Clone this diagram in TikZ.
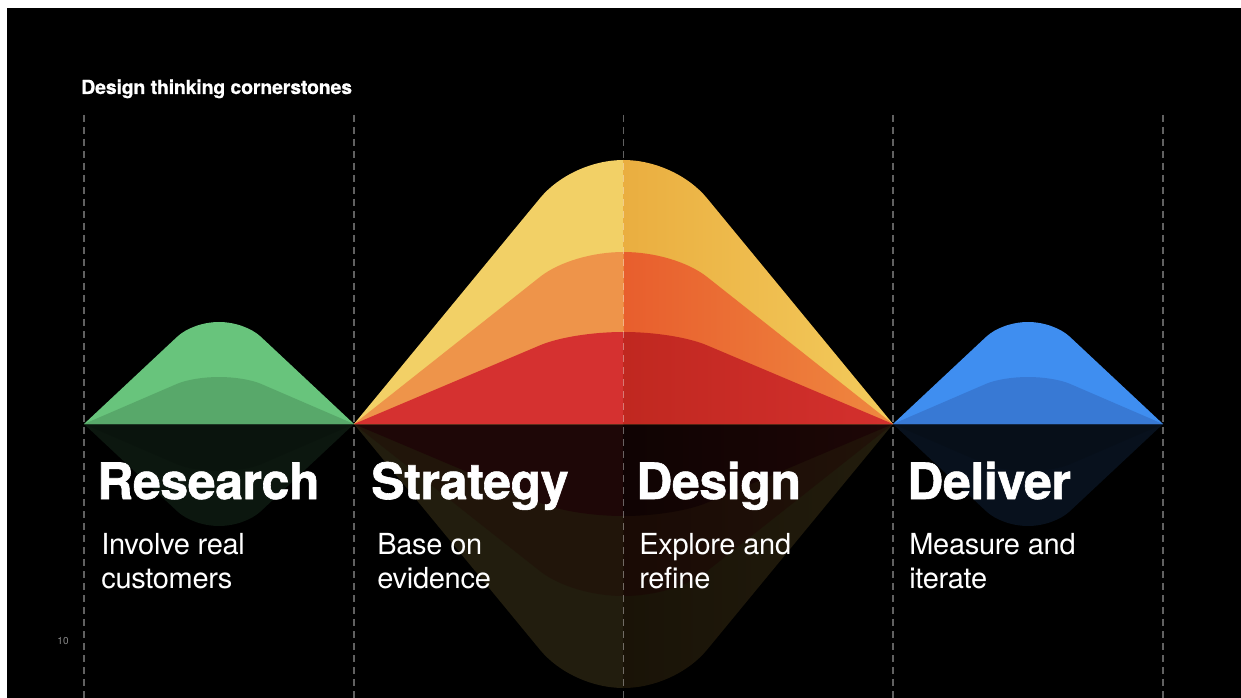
\documentclass[tikz,border=0pt]{standalone}
\usepackage{fontspec}
\setmainfont{TeX Gyre Heros}
\newfontfamily\headfont[LetterSpace=-0.8,FakeBold=1.2]{TeX Gyre Heros}
\newfontfamily\titlefont[LetterSpace=-0.8,FakeBold=0.6]{TeX Gyre Heros}
\newfontfamily\bodyfont[LetterSpace=-1.0]{TeX Gyre Heros}

% palette
\definecolor{grnA}{RGB}{104,196,124}
\definecolor{grnB}{RGB}{88,168,106}
\definecolor{bluA}{RGB}{63,142,240}
\definecolor{bluB}{RGB}{56,121,212}
\definecolor{yelL}{RGB}{242,208,102}
\definecolor{yelC}{RGB}{234,174,64}
\definecolor{yelR}{RGB}{243,203,92}
\definecolor{ornL}{RGB}{238,148,74}
\definecolor{ornC}{RGB}{232,94,45}
\definecolor{ornR}{RGB}{239,136,64}
\definecolor{redL}{RGB}{213,49,48}
\definecolor{redC}{RGB}{192,40,32}
\definecolor{redR}{RGB}{212,48,46}

% common horizon of all humps
\newcommand{\baseY}{424}
% left flank + rounded crest of a hump: centre #1, half width #2, height #3 (negative = mirrored)
\newcommand{\humpL}[3]{({#1-#2},\baseY) -- ({#1-0.31*#2},{\baseY-0.855*(#3)}) .. controls ({#1-0.24*#2},{\baseY-0.942*(#3)}) and ({#1-0.116*#2},{\baseY-(#3)}) .. ({#1},{\baseY-(#3)})}
% crest to right flank
\newcommand{\humpR}[3]{.. controls ({#1+0.116*#2},{\baseY-(#3)}) and ({#1+0.24*#2},{\baseY-0.942*(#3)}) .. ({#1+0.31*#2},{\baseY-0.855*(#3)}) -- ({#1+#2},\baseY)}

\tikzset{
  guide/.style={white, opacity=0.38, line width=1pt, dash pattern=on 5.25pt off 3.75pt},
  title/.style={anchor=base west, inner sep=0pt, text=white, font=\titlefont\fontsize{14.6}{16}\selectfont\bfseries},
  head/.style={anchor=base west, inner sep=0pt, text=white, font=\headfont\fontsize{37.5}{40}\selectfont\bfseries},
  sub/.style={anchor=base west, inner sep=0pt, text=white, font=\bodyfont\fontsize{21.75}{25}\selectfont},
  pagenum/.style={inner sep=0pt, text=white!55!black, font=\fontsize{7.5}{9}\selectfont},
}

\begin{document}
\begin{tikzpicture}[x=0.75pt,y=-0.75pt]
\useasboundingbox (0,0) rectangle (1241,698);
\fill[white] (0,0) rectangle (1241,698);
\fill[black] (7,8) rectangle (1241,698);

% ---- reflections below the horizon ----
\fill[grnA!12!black] \humpL{219}{135}{-102} \humpR{219}{135}{-102} -- cycle;
\fill[grnB!12!black] \humpL{219}{135}{-47} \humpR{219}{135}{-47} -- cycle;
\fill[bluA!12!black] \humpL{1028}{135}{-102} \humpR{1028}{135}{-102} -- cycle;
\fill[bluB!12!black] \humpL{1028}{135}{-47} \humpR{1028}{135}{-47} -- cycle;

\fill[yelL!14!black] \humpL{623.5}{269.5}{-264} -- (623.5,\baseY) -- cycle;
\shade[left color=yelC!11!black, right color=yelR!14!black] (623.5,\baseY) -- (623.5,{\baseY+264}) \humpR{623.5}{269.5}{-264} -- cycle;
\fill[ornL!14!black] \humpL{623.5}{269.5}{-172} -- (623.5,\baseY) -- cycle;
\shade[left color=ornC!11!black, right color=ornR!14!black] (623.5,\baseY) -- (623.5,{\baseY+172}) \humpR{623.5}{269.5}{-172} -- cycle;
\fill[redL!14!black] \humpL{623.5}{269.5}{-92} -- (623.5,\baseY) -- cycle;
\shade[left color=redC!8!black, right color=redR!14!black] (623.5,\baseY) -- (623.5,{\baseY+92}) \humpR{623.5}{269.5}{-92} -- cycle;

% ---- humps ----
\fill[grnA] \humpL{219}{135}{102} \humpR{219}{135}{102} -- cycle;
\fill[grnB] \humpL{219}{135}{47} \humpR{219}{135}{47} -- cycle;
\fill[bluA] \humpL{1028}{135}{102} \humpR{1028}{135}{102} -- cycle;
\fill[bluB] \humpL{1028}{135}{47} \humpR{1028}{135}{47} -- cycle;

\fill[yelL] \humpL{623.5}{269.5}{264} -- (623.5,\baseY) -- cycle;
\shade[left color=yelC, right color=yelR] (623.5,\baseY) -- (623.5,{\baseY-264}) \humpR{623.5}{269.5}{264} -- cycle;
\fill[ornL] \humpL{623.5}{269.5}{172} -- (623.5,\baseY) -- cycle;
\shade[left color=ornC, right color=ornR] (623.5,\baseY) -- (623.5,{\baseY-172}) \humpR{623.5}{269.5}{172} -- cycle;
\fill[redL] \humpL{623.5}{269.5}{92} -- (623.5,\baseY) -- cycle;
\shade[left color=redC, right color=redR] (623.5,\baseY) -- (623.5,{\baseY-92}) \humpR{623.5}{269.5}{92} -- cycle;

% ---- column guides ----
\foreach \gx [count=\gi] in {84,354,623.5,893,1163}{
  \coordinate (g\gi top) at (\gx,115);
  \coordinate (g\gi bot) at (\gx,698);
  \draw[guide] (g\gi top) -- (g\gi bot);
}

% ---- text ----
\node[title] (title) at (81,94) {Design thinking cornerstones};

\node[head] (hResearch) at (97,499) {Research};
\node[head] (hStrategy) at (371,499) {Strategy};
\node[head] (hDesign)   at (636,499) {Design};
\node[head] (hDeliver)  at (907,499) {Deliver};

\node[sub] (sResearchA) at (101,554) {Involve real};
\node[sub] (sResearchB) at (101,588) {customers};
\node[sub] (sStrategyA) at (377,554) {Base on};
\node[sub] (sStrategyB) at (377,588) {evidence};
\node[sub] (sDesignA)   at (639,554) {Explore and};
\node[sub] (sDesignB)   at (639,588) {refine};
\node[sub] (sDeliverA)  at (909,554) {Measure and};
\node[sub] (sDeliverB)  at (909,588) {iterate};

\node[pagenum] (pageno) at (63,641) {10};
\end{tikzpicture}
\end{document}
